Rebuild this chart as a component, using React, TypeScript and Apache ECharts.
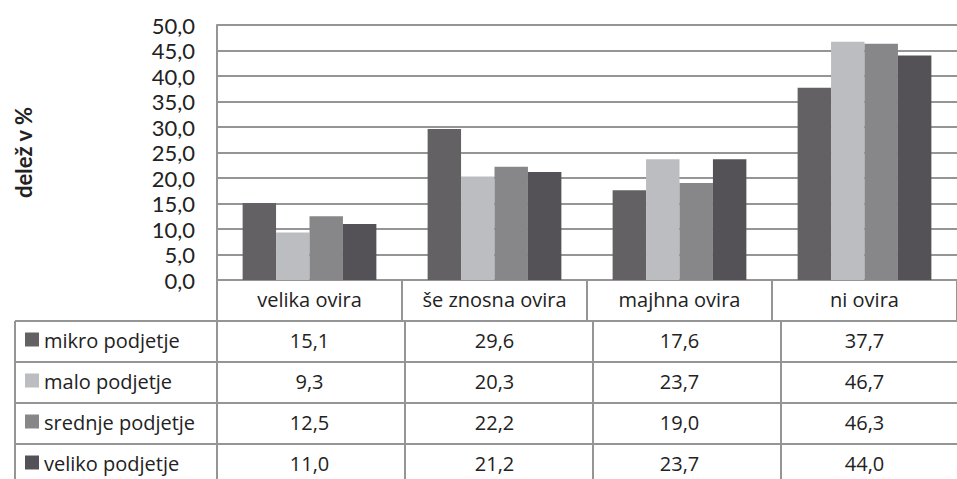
import React, { useEffect, useRef } from "react";
import * as echarts from "echarts";

const categories = ["velika ovira", "še znosna ovira", "majhna ovira", "ni ovira"];
const seriesNames = ["mikro podjetje", "malo podjetje", "srednje podjetje", "veliko podjetje"];
const mikro = [15.1, 29.6, 17.6, 37.7];
const malo = [9.3, 20.3, 23.7, 46.7];
const srednje = [12.5, 22.2, 19.0, 46.3];
const veliko = [11.0, 21.2, 23.7, 44.0];
const seriesValues = [mikro, malo, srednje, veliko];
const colors = ["#636164", "#bcbdc0", "#878789", "#545256"];
const yTitle = "delež v %";

const FONT = "Lato, 'Open Sans', sans-serif";
const TFONT = "'Open Sans', Lato, sans-serif";
const LINE = "#959595";
const TEXT = "#222222";

const fmt = (v: number) => v.toFixed(1).replace(".", ",");

export default function App() {
  const ref = useRef<HTMLDivElement>(null);
  useEffect(() => {
    if (!ref.current) return;
    const chart = echarts.init(ref.current, null, { renderer: "svg" });
    const gridLeft = 217;
    const gridTop = 25;
    const gridHeight = 255;
    const catW = 188;
    const gridWidth = catW * categories.length;
    chart.setOption({
      animation: false,
      backgroundColor: "#ffffff",
      textStyle: { fontFamily: FONT },
      grid: { left: gridLeft, top: gridTop, width: gridWidth, height: gridHeight, containLabel: false },
      xAxis: {
        type: "category",
        data: categories,
        axisLine: { show: true, lineStyle: { color: LINE, width: 2 } },
        axisTick: { show: true, length: 41, interval: 0, lineStyle: { color: LINE, width: 2 } },
        axisLabel: { show: true, interval: 0, margin: 9, color: TEXT, fontSize: 20, fontFamily: TFONT },
      },
      yAxis: {
        type: "value",
        min: 0,
        max: 50,
        interval: 5,
        name: yTitle,
        nameLocation: "middle",
        nameRotate: 90,
        nameGap: 183,
        nameTextStyle: { fontSize: 22, fontWeight: "bold", color: TEXT, fontFamily: FONT },
        axisLine: { show: true, lineStyle: { color: LINE, width: 2 } },
        axisTick: { show: false },
        axisLabel: {
          margin: 22,
          color: TEXT,
          fontSize: 22,
          fontFamily: FONT,
          formatter: (v: number) => fmt(v),
        },
        splitLine: { show: true, lineStyle: { color: LINE, width: 2 } },
      },
      series: seriesNames.map((n, i) => ({
        type: "bar",
        name: n,
        data: seriesValues[i],
        barGap: "0%",
        barCategoryGap: "27.7%",
        itemStyle: { color: colors[i] },
      })),
    });

    // table below axis
    const tableLeft = 15;
    const rowTop = 321;
    const rowH = 41;
    const right = 960;
    const g: any[] = [];
    for (let r = 0; r <= seriesNames.length; r++) {
      const y = rowTop + r * rowH;
      g.push({ type: "line", shape: { x1: tableLeft, y1: y, x2: right, y2: y }, style: { stroke: LINE, lineWidth: 2 }, silent: true });
    }
    const vx = [tableLeft, gridLeft];
    for (let c = 1; c < categories.length; c++) vx.push(gridLeft + c * catW);
    vx.forEach((x) => {
      g.push({ type: "line", shape: { x1: x, y1: rowTop, x2: x, y2: rowTop + rowH * seriesNames.length + 4 }, style: { stroke: LINE, lineWidth: 2 }, silent: true });
    });
    seriesNames.forEach((n, r) => {
      const cy = rowTop + r * rowH + rowH / 2 - 1;
      g.push({ type: "rect", shape: { x: 25, y: cy - 8, width: 14, height: 14 }, style: { fill: colors[r] }, silent: true });
      g.push({
        type: "text",
        x: 44,
        y: cy,
        style: { text: n, fill: TEXT, font: `20px ${TFONT}`, textAlign: "left", textVerticalAlign: "middle" },
        silent: true,
      });
      categories.forEach((c, ci) => {
        const px = chart.convertToPixel({ xAxisIndex: 0 }, c) as number;
        g.push({
          type: "text",
          x: px,
          y: cy,
          style: { text: fmt(seriesValues[r][ci]), fill: TEXT, font: `20px ${TFONT}`, textAlign: "center", textVerticalAlign: "middle" },
          silent: true,
        });
      });
    });
    chart.setOption({ graphic: g });
    return () => chart.dispose();
  }, []);
  return <div ref={ref} style={{ position: "fixed", left: 0, top: 0, width: 957, height: 479 }} />;
}
